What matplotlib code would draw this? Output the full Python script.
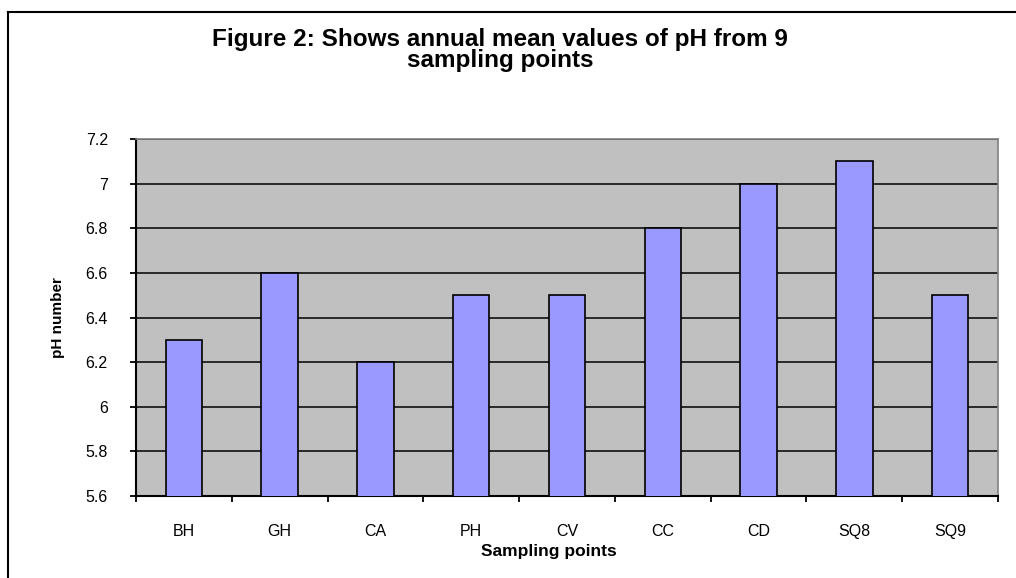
import matplotlib
matplotlib.use("Agg")
import matplotlib.pyplot as plt
from matplotlib.lines import Line2D
from matplotlib.ticker import MultipleLocator, FixedLocator

# annual mean pH per sampling point
sites = ["BH", "GH", "CA", "PH", "CV", "CC", "CD", "SQ8", "SQ9"]
ph_mean = [6.3, 6.6, 6.2, 6.5, 6.5, 6.8, 7.0, 7.1, 6.5]
y_ticks = [5.6, 5.8, 6.0, 6.2, 6.4, 6.6, 6.8, 7.0, 7.2]
y_labels = ["5.6", "5.8", "6", "6.2", "6.4", "6.6", "6.8", "7", "7.2"]

plt.rcParams["font.family"] = ["Liberation Sans", "DejaVu Sans"]

W, H = 1016, 578
fig = plt.figure(figsize=(W / 100, H / 100), dpi=100)
ax = fig.add_axes([136 / W, 1 - 496 / H, (998 - 136) / W, (496 - 139) / H])
ax.set_facecolor("#c0c0c0")

x = range(len(sites))
ax.bar(x, ph_mean, width=0.38, color="#9999ff", edgecolor="black", lw=1.2, zorder=3)

ax.set_ylim(5.6, 7.2)
ax.set_xlim(-0.5, len(sites) - 0.5)
ax.yaxis.set_major_locator(FixedLocator(y_ticks))
ax.set_yticklabels(y_labels)
ax.yaxis.grid(True, color="black", lw=1.1, zorder=1)
ax.set_axisbelow(True)

ax.set_xticks(list(x))
ax.set_xticklabels(sites)
ax.xaxis.set_minor_locator(MultipleLocator(1, offset=0.5))
ax.tick_params(axis="x", which="major", length=0, pad=20, labelsize=11.5)
ax.tick_params(axis="x", which="minor", length=4.3, width=1.3, direction="out")
ax.tick_params(axis="y", length=4.3, width=1.3, pad=16, labelsize=11.5)

for s in ("left", "bottom"):
    ax.spines[s].set_linewidth(1.5)
    ax.spines[s].set_color("black")
for s in ("top", "right"):
    ax.spines[s].set_linewidth(1.2)
    ax.spines[s].set_color("#808080")

ax.set_ylabel("pH number", fontsize=11, fontweight="bold",
              family=["Liberation Sans Narrow", "Liberation Sans", "DejaVu Sans"])
ax.yaxis.set_label_coords(-0.082, 0.5)
ax.set_xlabel("Sampling points", fontsize=12.5, fontweight="bold")
ax.xaxis.set_label_coords(0.4785, -0.135)

fig.text(0.492, 1 - 28 / H, "Figure 2: Shows annual mean values of pH from 9\nsampling points",
         ha="center", va="top", fontsize=17.5, fontweight="bold", linespacing=0.88)

# outer chart border (cut off at right and bottom edges)
fig.add_artist(Line2D([8 / W, 1], [1 - 12 / H, 1 - 12 / H], color="black", lw=1.5))
fig.add_artist(Line2D([8 / W, 8 / W], [0, 1 - 12 / H], color="black", lw=1.5))

fig.savefig("out.png", dpi=100)
